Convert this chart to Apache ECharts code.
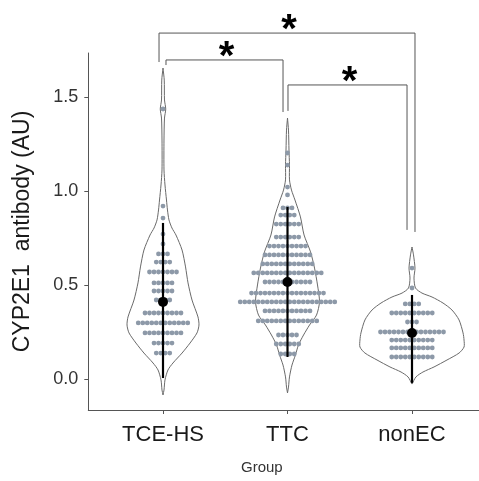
<!DOCTYPE html>
<html><head><meta charset="utf-8">
<script src="https://cdn.jsdelivr.net/npm/echarts@6/dist/echarts.min.js"></script>
<style>html,body{margin:0;padding:0;background:#fff}#c{width:479px;height:481px}</style>
</head><body><div id="c"></div>
<script>
// categories and ticks
const groups = ['TCE-HS', 'TTC', 'nonEC'];
const yTicks = [0, 0.5, 1.0, 1.5];

// dot-plot rows: value of each row and number of dots in it
const tceRowY = [1.436, 0.920, 0.856, 0.771, 0.718, 0.665, 0.622, 0.569, 0.511, 0.468, 0.420, 0.351, 0.298, 0.245, 0.191, 0.138];
const tceRowN = [1, 1, 1, 1, 1, 3, 4, 7, 5, 5, 4, 9, 12, 9, 5, 4];
const ttcRowY = [1.202, 1.138, 1.021, 0.979, 0.910, 0.872, 0.824, 0.755, 0.707, 0.660, 0.612, 0.564, 0.516, 0.457, 0.410, 0.362, 0.309, 0.234, 0.186, 0.133];
const ttcRowN = [1, 1, 1, 1, 3, 4, 6, 6, 9, 11, 12, 16, 11, 17, 22, 11, 14, 5, 6, 4];
const nonRowY = [0.590, 0.484, 0.399, 0.351, 0.303, 0.250, 0.207, 0.165, 0.117];
const nonRowN = [1, 1, 4, 10, 3, 15, 10, 10, 10];

// violin outlines: value and half-width (in category units)
const tceViolinY = [1.654, 1.590, 1.484, 1.436, 1.388, 1.271, 1.112, 1.032, 0.952, 0.899, 0.846, 0.803, 0.766, 0.686, 0.596, 0.511, 0.420, 0.330, 0.287, 0.245, 0.191, 0.138, 0.085, 0.048, -0.005, -0.059, -0.085];
const tceViolinW = [0, 0.010, 0.012, 0.022, 0.012, 0.008, 0.008, 0.016, 0.028, 0.036, 0.048, 0.072, 0.104, 0.153, 0.181, 0.201, 0.233, 0.281, 0.289, 0.273, 0.217, 0.153, 0.080, 0.040, 0.016, 0.008, 0];
const ttcViolinY = [1.388, 1.324, 1.218, 1.138, 1.059, 1.005, 0.952, 0.862, 0.766, 0.676, 0.590, 0.500, 0.410, 0.340, 0.287, 0.234, 0.181, 0.128, 0.074, 0.011, -0.043, -0.074];
const ttcViolinW = [0, 0.008, 0.012, 0.016, 0.016, 0.032, 0.060, 0.104, 0.133, 0.185, 0.217, 0.241, 0.257, 0.233, 0.177, 0.129, 0.088, 0.064, 0.036, 0.016, 0.008, 0];
const nonViolinY = [0.702, 0.660, 0.590, 0.537, 0.484, 0.457, 0.436, 0.404, 0.367, 0.314, 0.245, 0.207, 0.170, 0.138, 0.101, 0.064, 0.037, 0.011, -0.027];
const nonViolinW = [0, 0.012, 0.024, 0.016, 0.028, 0.080, 0.161, 0.249, 0.321, 0.378, 0.410, 0.418, 0.418, 0.378, 0.281, 0.177, 0.088, 0.032, 0];

// mean and error bar ends
const meanVals = [0.410, 0.516, 0.245];
const lowVals = [0.005, 0.117, -0.021];
const highVals = [0.830, 0.915, 0.447];

// significance brackets: x start, x end, top value, left leg end, right leg end, label
const brX1 = [0.968, 1.024, 2.004];
const brX2 = [3.024, 1.964, 2.960];
const brY = [1.840, 1.697, 1.564];
const brYL = [1.686, 1.670, 1.426];
const brYR = [0.782, 1.420, 0.793];
const brLabel = ['*', '*', '*'];

const rowsY = [tceRowY, ttcRowY, nonRowY];
const rowsN = [tceRowN, ttcRowN, nonRowN];
const violY = [tceViolinY, ttcViolinY, nonViolinY];
const violW = [tceViolinW, ttcViolinW, nonViolinW];

const dotData = [];
rowsY.forEach((ys, g) => ys.forEach((y, i) => dotData.push([g + 1, y, rowsN[g][i]])));

const chart = echarts.init(document.getElementById('c'), null, {renderer: 'canvas'});
const FONT = 'Liberation Sans, Arial, sans-serif';
const DOT = 4.5;

chart.setOption({
  animation: false,
  backgroundColor: '#ffffff',
  grid: {left: 88.3, top: 53, width: 398.4, height: 357, containLabel: false, outerBoundsMode: 'none'},
  xAxis: {
    type: 'value', min: 0.4, max: 3.6,
    splitLine: {show: false},
    axisLine: {show: true, onZero: false, lineStyle: {color: '#555', width: 1}},
    axisTick: {show: true, customValues: [1, 2, 3], length: 4, lineStyle: {color: '#555'}},
    axisLabel: {customValues: [1, 2, 3], formatter: v => groups[Math.round(v) - 1], fontSize: 22, color: '#1a1a1a', margin: 14, fontFamily: FONT}
  },
  yAxis: {
    type: 'value', min: -0.165, max: 1.734,
    splitLine: {show: false},
    axisLine: {show: true, onZero: false, lineStyle: {color: '#555', width: 1}},
    axisTick: {show: true, customValues: yTicks, length: 4, lineStyle: {color: '#555'}},
    axisLabel: {customValues: yTicks, formatter: v => v.toFixed(1), fontSize: 18, color: '#333', margin: 10, fontFamily: FONT},
    name: 'CYP2E1  antibody (AU)', nameLocation: 'middle', nameGap: 54,
    nameTextStyle: {fontSize: 23, color: '#1a1a1a', fontFamily: FONT}
  },
  graphic: [{type: 'text', left: 262 - 21, top: 460, style: {text: 'Group', fontSize: 15, fill: '#333', fontFamily: FONT}}],
  series: [
    {
      type: 'custom', clip: false, z: 1,
      data: [[1], [2], [3]],
      renderItem: (params, api) => {
        const g = api.value(0);
        const ys = violY[g - 1], ws = violW[g - 1];
        const pts = [];
        for (let i = 0; i < ys.length; i++) pts.push(api.coord([g + ws[i], ys[i]]));
        for (let i = ys.length - 1; i >= 0; i--) pts.push(api.coord([g - ws[i], ys[i]]));
        return {type: 'polygon', shape: {points: pts, smooth: 0.25}, style: {fill: 'none', stroke: '#6a6a6a', lineWidth: 1}};
      }
    },
    {
      type: 'custom', clip: false, z: 2,
      data: dotData,
      renderItem: (params, api) => {
        const c = api.coord([api.value(0), api.value(1)]);
        const n = api.value(2);
        const children = [];
        for (let k = 0; k < n; k++) {
          children.push({type: 'circle', shape: {cx: c[0] + (k - (n - 1) / 2) * DOT, cy: c[1], r: 2.4}, style: {fill: '#8d99a8', stroke: null}});
        }
        return {type: 'group', children};
      }
    },
    {
      type: 'custom', clip: false, z: 3,
      data: meanVals.map((m, i) => [i + 1, m, lowVals[i], highVals[i]]),
      renderItem: (params, api) => {
        const g = api.value(0);
        const lo = api.coord([g, api.value(2)]), hi = api.coord([g, api.value(3)]), m = api.coord([g, api.value(1)]);
        return {type: 'group', children: [
          {type: 'line', shape: {x1: lo[0], y1: lo[1], x2: hi[0], y2: hi[1]}, style: {stroke: '#000', lineWidth: 2.2}},
          {type: 'circle', shape: {cx: m[0], cy: m[1], r: 5}, style: {fill: '#000'}}
        ]};
      }
    },
    {
      type: 'custom', clip: false, z: 4,
      data: brX1.map((x, i) => [x, brX2[i], brY[i], brYL[i], brYR[i], i]),
      renderItem: (params, api) => {
        const x1 = api.value(0), x2 = api.value(1), y = api.value(2);
        const p1 = api.coord([x1, api.value(3)]), p2 = api.coord([x1, y]), p3 = api.coord([x2, y]), p4 = api.coord([x2, api.value(4)]);
        const mid = api.coord([(x1 + x2) / 2, y]);
        return {type: 'group', children: [
          {type: 'polyline', shape: {points: [p1, p2, p3, p4]}, style: {fill: 'none', stroke: '#555', lineWidth: 1}},
          {type: 'text', x: mid[0] + 2, y: mid[1] - 2, style: {text: brLabel[api.value(5)], fontSize: 40, fontWeight: 'bold', fill: '#000', align: 'center', verticalAlign: 'middle', fontFamily: FONT}}
        ]};
      }
    }
  ]
});
</script></body></html>
